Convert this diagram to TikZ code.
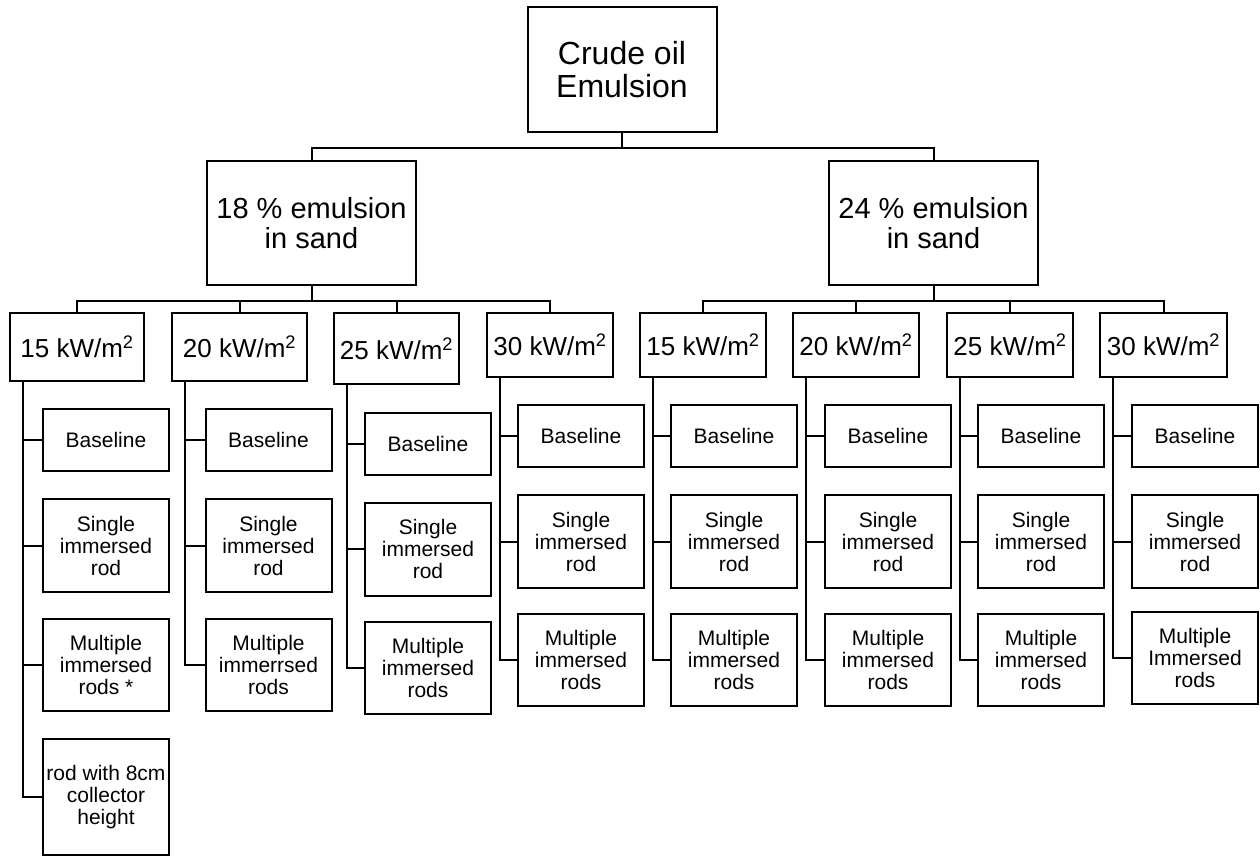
\documentclass[tikz,border=0pt]{standalone}
\usepackage{fontspec}
\setmainfont{Liberation Sans}
\usepackage{tikz}
\tikzset{
  box/.style = {
    draw, rectangle, line width=2pt, align=center, inner sep=0pt  }
}

\begin{document}
\begin{tikzpicture}[x=1pt,y=-1pt,
root_style/.style={box,minimum width=189pt,minimum height=125pt,font=\fontsize{32}{33}\selectfont},
level_style/.style={box,minimum width=209pt,minimum height=124pt,font=\fontsize{29}{30}\selectfont},
flux_style/.style={box,font=\fontsize{26}{28}\selectfont},
leaf_style/.style={box,minimum width=126pt,font=\fontsize{21}{22}\selectfont},
edge_style/.style={line width=2pt}]

\useasboundingbox (0,0) rectangle (1260,858);

\node[root_style] (root) at (622,70) {Crude oil\\Emulsion};
\node[level_style] (e18) at (311.5,223) {18 \% emulsion\\in sand};
\node[level_style] (e24) at (933.5,223) {24 \% emulsion\\in sand};

\foreach \n/\x/\y/\w/\h/\t in {p1/77/347/134/68/15,p2/239.5/347/135/68/20,p3/396.5/348.5/125/71/25,p4/550/345/126/64/30,
  q1/703/345/126/64/15,q2/856/345/126/64/20,q3/1010/345/126/64/25,q4/1163.5/345/127/64/30}{
 \node[flux_style,minimum width=\w pt,minimum height=\h pt] (\n) at (\x,\y) {\t\ kW/m\textsuperscript{2}};
}

\draw[edge_style] (root.south) -- ++(0,15) -| (e18.north);
\draw[edge_style] (root.south) -- ++(0,15) -| (e24.north);
\foreach \n in {p1,p2,p3,p4}{
 \draw[edge_style] (e18.south) -- ++(0,15) -| (\n.north);
}
\foreach \n in {q1,q2,q3,q4}{
 \draw[edge_style] (e24.south) -- ++(0,15) -| (\n.north);
}

\foreach \c/\p/\x/\a/\b/\m/\t in {L1/p1/106/440/545.5/665/{Multiple\\immersed\\rods *},
  L2/p2/268.5/440/545.5/665/{Multiple\\immerrsed\\rods},
  L3/p3/428/443.5/549/668/{Multiple\\immersed\\rods},
  L4/p4/581/436/541.5/659.5/{Multiple\\immersed\\rods},
  R1/q1/734/436/541.5/659.5/{Multiple\\immersed\\rods},
  R2/q2/888/436/541.5/659.5/{Multiple\\immersed\\rods},
  R3/q3/1041/436/541.5/659.5/{Multiple\\immersed\\rods},
  R4/q4/1195/436/541.5/658/{Multiple\\Immersed\\rods}}{
 \node[leaf_style,minimum height=62pt] (\c-b) at (\x,\a) {Baseline};
 \node[leaf_style,minimum height=93pt] (\c-s) at (\x,\b) {Single\\immersed\\rod};
 \node[leaf_style,minimum height=92pt] (\c-m) at (\x,\m) {\t};
 \draw[edge_style] ([xshift=13.5pt]\p.south west) |- (\c-b.west);
 \draw[edge_style] ([xshift=13.5pt]\p.south west) |- (\c-s.west);
 \draw[edge_style] ([xshift=13.5pt]\p.south west) |- (\c-m.west);
}

\node[leaf_style,minimum height=116pt] (L1-r) at (106,797) {rod with 8cm\\collector\\height};
\draw[edge_style] ([xshift=13.5pt]p1.south west) |- (L1-r.west);
\end{tikzpicture}
\end{document}
